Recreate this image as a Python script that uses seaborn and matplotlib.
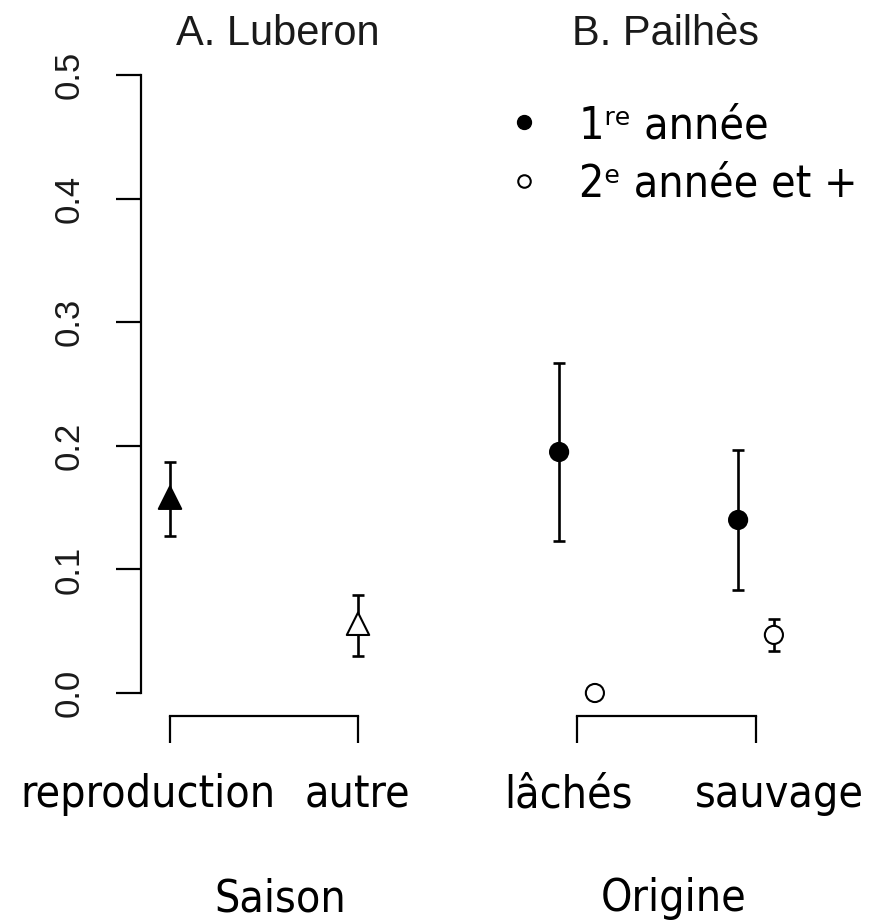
import numpy as np
import pandas as pd
import matplotlib
matplotlib.use("Agg")
import matplotlib.pyplot as plt
from matplotlib.lines import Line2D
from matplotlib.font_manager import FontProperties
import seaborn as sns

# ── Données ──────────────────────────────────────────────
# A. Luberon : par saison
saison = ["reproduction", "autre"]
luberon_est = [0.158, 0.056]
luberon_low = [0.127, 0.030]
luberon_high = [0.187, 0.079]

# B. Pailhès : par origine et par âge
origine = ["lâchés", "sauvage"]
annee1_est = [0.195, 0.140]
annee1_low = [0.123, 0.083]
annee1_high = [0.267, 0.197]
annee2_est = [0.0, 0.047]
annee2_low = [np.nan, 0.034]
annee2_high = [np.nan, 0.060]

yticks = [0.0, 0.1, 0.2, 0.3, 0.4, 0.5]
legend_labels = ["1ʳᵉ année", "2ᵉ année et +"]
panel_titles = ["A. Luberon", "B. Pailhès"]
axis_titles = ["Saison", "Origine"]

# ── Mise en page (pixels) ────────────────────────────────
W, H = 872, 921
sns.set_style("ticks")
plt.rcParams["font.family"] = ["DejaVu Sans"]

tahoma = FontProperties(family="DejaVu Sans", stretch="condensed", size=32)
rfont = dict(family="Liberation Sans", color="#1a1a1a")


def fx(px):
    return px / W


def fy(py):
    return 1 - py / H


def rect(left, right, top, bottom):
    return [fx(left), fy(bottom), (right - left) / W, (bottom - top) / H]


fig = plt.figure(figsize=(W / 100, H / 100), dpi=100)
axA = fig.add_axes(rect(141, 417, 60, 705))
axB = fig.add_axes(rect(480, 860, 60, 705))

ylim = (-(705 - 693) / 1236, 0.5 + (75 - 60) / 1236)


def errbars(ax, x, est, low, high):
    x = np.asarray(x, float)
    est = np.asarray(est, float)
    low = np.asarray(low, float)
    high = np.asarray(high, float)
    ok = ~np.isnan(low)
    ax.errorbar(x[ok], est[ok], yerr=[est[ok] - low[ok], high[ok] - est[ok]],
                fmt="none", ecolor="black", elinewidth=1.9,
                capsize=4.5, capthick=1.9, zorder=2)


# ── Panel A ──────────────────────────────────────────────
dfA = pd.DataFrame({"saison": saison, "est": luberon_est,
                    "pos": np.arange(len(saison))})
errbars(axA, dfA["pos"], luberon_est, luberon_low, luberon_high)
sns.scatterplot(data=dfA, x="pos", y="est", hue="saison",
                palette=["black", "white"], marker="^", s=260,
                edgecolor="black", linewidth=1.5, legend=False,
                ax=axA, zorder=3)
axA.set_xlim((141 - 170) / 188, (417 - 170) / 188)

# ── Panel B ──────────────────────────────────────────────
n = len(origine)
dfB = pd.DataFrame({
    "origine": origine * 2,
    "annee": ["1"] * n + ["2"] * n,
    "est": annee1_est + annee2_est,
    "pos": np.concatenate([np.arange(n) - 0.1, np.arange(n) + 0.1]),
})
errbars(axB, np.arange(n) - 0.1, annee1_est, annee1_low, annee1_high)
errbars(axB, np.arange(n) + 0.1, annee2_est, annee2_low, annee2_high)
sns.scatterplot(data=dfB, x="pos", y="est", hue="annee",
                palette=["black", "white"], marker="o", s=170,
                edgecolor="black", linewidth=1.5, legend=False,
                ax=axB, zorder=3, clip_on=False)
axB.set_xlim((480 - 577) / 179, (860 - 577) / 179)

# ── Axes ─────────────────────────────────────────────────
for ax in (axA, axB):
    ax.set_ylim(*ylim)
    ax.set_xlabel("")
    ax.set_ylabel("")
    ax.patch.set_alpha(0)
    for s in ("top", "right"):
        ax.spines[s].set_visible(False)
    ax.spines["bottom"].set_position(("outward", (716 - 705) * 0.72))
    ax.spines["bottom"].set_bounds(0, 1)
    ax.spines["bottom"].set_linewidth(1.6)
    ax.spines["bottom"].set_color("black")
    ax.set_xticks([0, 1])
    ax.set_xticklabels([])
    ax.tick_params(axis="x", length=(743 - 716) * 0.72, width=1.6,
                   direction="out", color="black")

axA.spines["left"].set_bounds(0, 0.5)
axA.spines["left"].set_linewidth(1.6)
axA.spines["left"].set_color("black")
axA.set_yticks(yticks)
axA.set_yticklabels([f"{v:.1f}" for v in yticks], rotation=90,
                    va="center", fontsize=25, **rfont)
axA.tick_params(axis="y", length=18, width=1.6, pad=22, color="black")
axB.spines["left"].set_visible(False)
axB.set_yticks([])

# ── Textes ───────────────────────────────────────────────
for title, cx in zip(panel_titles, [278, 665]):
    fig.text(fx(cx), fy(45), title, ha="center", va="baseline",
             fontsize=30, **rfont)

for lab, cx in zip(saison + origine, [148, 357, 568, 779]):
    fig.text(fx(cx), fy(807), lab, ha="center", va="baseline",
             fontproperties=tahoma, color="black")

for lab, cx in zip(axis_titles, [280, 674]):
    fig.text(fx(cx), fy(911), lab, ha="center", va="baseline",
             fontproperties=tahoma, color="black")

handles = [
    Line2D([], [], ls="none", marker="o", markersize=10,
           color="black"),
    Line2D([], [], ls="none", marker="o", markersize=9,
           markerfacecolor="white", markeredgecolor="black",
           markeredgewidth=1.5),
]
fig.legend(handles, legend_labels, loc="upper left",
           bbox_to_anchor=(fx(502), fy(104)), frameon=False,
           prop=tahoma, labelcolor="black", handlelength=1.0,
           handletextpad=0.74, borderpad=0, borderaxespad=0,
           labelspacing=0.34)

fig.savefig("out.png", dpi=100)
plt.close()
